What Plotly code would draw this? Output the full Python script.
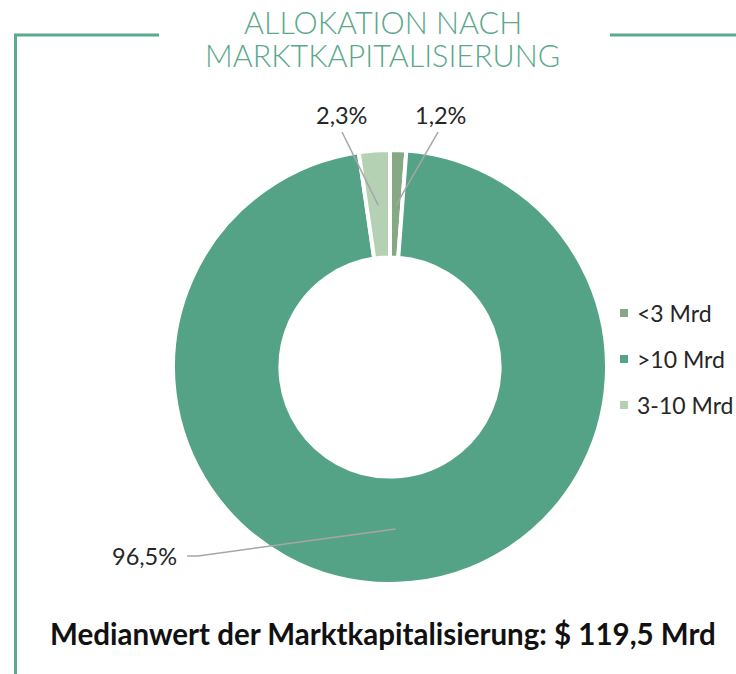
import math
import plotly.graph_objects as go

# ---------------- data ----------------
categories = ["<3 Mrd", ">10 Mrd", "3-10 Mrd"]
values = [1.2, 96.5, 2.3]
value_labels = ["1,2%", "96,5%", "2,3%"]
colors = ["#86A884", "#55A386", "#B5D1B4"]

title_lines = ["ALLOKATION NACH", "MARKTKAPITALISIERUNG"]
footer_text = "Medianwert der Marktkapitalisierung: $ 119,5 Mrd"

# ---------------- layout constants ----------------
W, H = 736, 674
OFF = 0                    # page body margin (removed via post_script)
CX, CY = 390, 367          # donut centre (px, page coords)
R_OUT = 217                # outer radius (px)
HOLE = 0.505
FRAME_COLOR = "#5BAA8E"
TEXT_COLOR = "#5BA88B"
LEADER = "#A6A6A6"
FONT = "Lato"


def px(x):
    return (x - OFF) / W


def py(y):
    return 1 - (y - OFF) / H


fig = go.Figure()
fig.add_trace(go.Pie(
    labels=categories,
    values=values,
    sort=False,
    direction="clockwise",
    rotation=0,
    hole=HOLE,
    marker=dict(colors=colors, line=dict(color="white", width=4)),
    textinfo="none",
    hoverinfo="label+percent",
    showlegend=False,
    domain=dict(x=[px(CX - R_OUT), px(CX + R_OUT)],
                y=[py(CY + R_OUT), py(CY - R_OUT)]),
))

shapes = []
annotations = []

# leader lines + labels computed from slice mid-angles
total = sum(values)
cum = 0
label_pos = {  # label text centre (px) for each slice, and elbow points
    0: dict(text=(440, 115), path=[(438, 132)]),
    1: dict(text=(144, 556), path=[(198, 556), (187, 556)]),
    2: dict(text=(341, 115), path=[(342, 132)]),
}
r_anchor = 162
for i, v in enumerate(values):
    mid = (cum + v / 2) / total * 2 * math.pi
    cum += v
    ax = CX + r_anchor * math.sin(mid)
    ay = CY - r_anchor * math.cos(mid)
    pts = [(ax, ay)] + label_pos[i]["path"]
    d = "M " + " L ".join(f"{px(x):.5f},{py(y):.5f}" for x, y in pts)
    shapes.append(dict(type="path", xref="paper", yref="paper", path=d,
                       line=dict(color=LEADER, width=1.5)))
    tx, ty = label_pos[i]["text"]
    annotations.append(dict(x=px(tx), y=py(ty), xref="paper", yref="paper",
                            text=value_labels[i], showarrow=False,
                            xanchor="center", yanchor="middle",
                            font=dict(family=FONT, size=23.5, color="#262626")))

# manual legend
LEG_X, LEG_Y0, LEG_DY = 624, 313, 46
for i, cat in enumerate(categories):
    y = LEG_Y0 + i * LEG_DY
    shapes.append(dict(type="rect", xref="paper", yref="paper",
                       x0=px(LEG_X - 4), x1=px(LEG_X + 4),
                       y0=py(y + 4), y1=py(y - 4),
                       fillcolor=colors[i], line=dict(width=0)))
    annotations.append(dict(x=px(LEG_X + 12), y=py(y), xref="paper", yref="paper",
                            text=cat, showarrow=False, xanchor="left", yanchor="middle",
                            borderpad=0,
                            font=dict(family=FONT, size=23, color="#262626")))

# frame lines
shapes.append(dict(type="path", xref="paper", yref="paper",
                   path=f"M {px(159)},{py(35)} L {px(15.5)},{py(35)} L {px(15.5)},{py(H + 20)}",
                   line=dict(color=FRAME_COLOR, width=3)))
shapes.append(dict(type="line", xref="paper", yref="paper",
                   x0=px(610), x1=px(W + 20), y0=py(35), y1=py(35),
                   line=dict(color=FRAME_COLOR, width=3)))

# title
for j, t in enumerate(title_lines):
    annotations.append(dict(x=px(383), y=py(22 + j * 33), xref="paper", yref="paper",
                            text=t, showarrow=False, xanchor="center", yanchor="middle",
                            borderpad=0,
                            font=dict(family=FONT, size=30.5, color=TEXT_COLOR, weight=300)))

# footer
annotations.append(dict(x=px(383), y=py(633), xref="paper", yref="paper",
                        text=footer_text, showarrow=False, xanchor="center", yanchor="middle",
                        font=dict(family=FONT, size=29.5, color="#111111", weight="bold")))

fig.update_layout(
    width=W, height=H,
    margin=dict(l=0, r=0, t=0, b=0),
    paper_bgcolor="white",
    plot_bgcolor="white",
    shapes=shapes,
    annotations=annotations,
    showlegend=False,
)

fig.write_html("out.html",
               config=dict(displayModeBar=False),
               post_script="document.body.style.margin='0';document.body.style.overflow='hidden';")
